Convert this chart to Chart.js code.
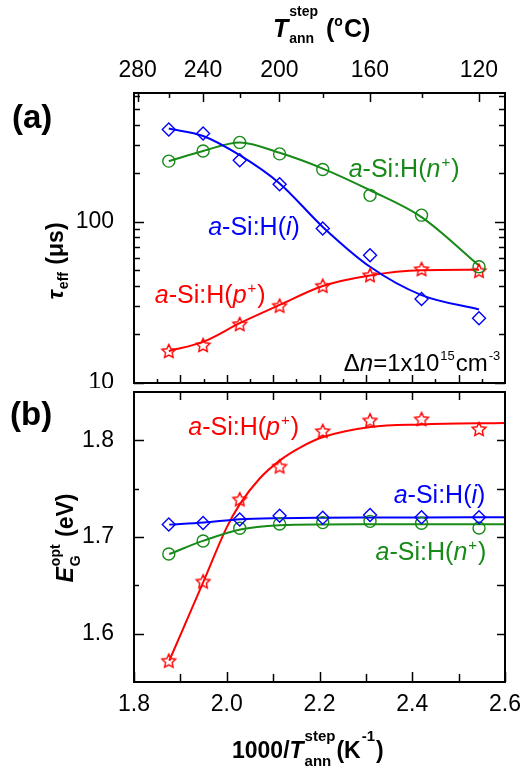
<!DOCTYPE html>
<html>
<head>
<meta charset="utf-8">
<script src="https://cdn.jsdelivr.net/npm/chart.js@4.4.1/dist/chart.umd.min.js"></script>
<style>
  html, body { margin: 0; padding: 0; background: #fff; }
  #wrap { position: relative; width: 523px; height: 773px; }
  .panel { position: absolute; left: 0; width: 523px; }
  #pa { top: 0; height: 388px; }
  #pb { top: 388px; height: 385px; }
</style>
</head>
<body>
<div id="wrap">
  <div class="panel" id="pa"><canvas id="ca"></canvas></div>
  <div class="panel" id="pb"><canvas id="cb"></canvas></div>
</div>
<script>
// 1000/T_ann (K^-1) for annealing steps 260 ... 120 °C
const invT = [1.875, 1.949, 2.028, 2.114, 2.207, 2.309, 2.420, 2.544];

// (a) effective lifetime tau_eff (µs)
const tauI = [374, 353, 241, 171, 91, 62, 33.2, 25.2];
const tauN = [238, 275, 311, 264, 211, 146, 110, 52.6];
const tauP = [15.8, 17.2, 23.2, 30.2, 40.1, 46.7, 50.9, 49.7];
// (a) fitted curves, read at the same x
const fitTauI = [379, 341, 259, 173, 93, 52.6, 35.1, 28.6];
const fitTauN = [238, 275, 311, 268, 214, 157, 107, 53.5];
const fitTauP = [15.8, 18, 23.5, 30.5, 40, 46.5, 50, 50.4];

// (b) optical gap E_G^opt (eV)
const egP = [1.572, 1.654, 1.739, 1.773, 1.8096, 1.8207, 1.822, 1.8117];
const egI = [1.713, 1.7145, 1.718, 1.722, 1.720, 1.7228, 1.7204, 1.7204];
const egN = [1.6824, 1.6959, 1.709, 1.7134, 1.7149, 1.7162, 1.7142, 1.7093];
// (b) fitted curves
const fitXP = [1.876, 1.95, 2.0, 2.029, 2.07, 2.114, 2.16, 2.208, 2.31, 2.42, 2.6];
const fitEgP = [1.572, 1.654, 1.710, 1.7345, 1.760, 1.779, 1.793, 1.8034, 1.8138, 1.8165, 1.8179];
const fitXB = [1.876, 1.95, 2.029, 2.114, 2.208, 2.31, 2.42, 2.6];
const fitEgI = [1.7128, 1.715, 1.7183, 1.7195, 1.7200, 1.7202, 1.7203, 1.7204];
const fitEgN = [1.6824, 1.6962, 1.7078, 1.7122, 1.7130, 1.7131, 1.7131, 1.7131];

// axis ticks
const topTempMajor = [280, 240, 200, 160, 120];
const topTempMinor = [260, 220, 180, 140];
const xMajor = [1.8, 2.0, 2.2, 2.4, 2.6];
const xMinor = [1.9, 2.1, 2.3, 2.5];
const tauMajor = [10, 100];
const tauMinor = [20, 30, 40, 50, 60, 70, 80, 90, 200, 300, 400, 500, 600];
const egMajor = [1.6, 1.7, 1.8];
const egMinor = [1.65, 1.75];

const BLUE = '#0000ff', GREEN = '#178a17', RED = '#ff0000';
const FAM = '"Liberation Sans", Arial, Helvetica, sans-serif';
const toX = t => 1000 / (t + 273.15);
const pts = (xs, ys) => xs.map((x, i) => ({ x, y: ys[i] }));

function fnt(size, it, bold) {
  return (it ? 'italic ' : '') + (bold ? 'bold ' : '') + size + 'px ' + FAM;
}

// draws text runs with italics, superscripts and subscripts
function drawRich(ctx, x, y, segs, o) {
  const small = o.small || Math.round(o.size * 0.55);
  const parts = [];
  let w = 0;
  for (const s of segs) {
    if (s.t !== undefined) {
      ctx.font = fnt(o.size, s.it, o.bold);
      parts.push({ txt: s.t, font: ctx.font, dx: w, dy: 0 });
      w += ctx.measureText(s.t).width;
    } else {
      ctx.font = fnt(small, false, o.bold);
      let adv = 0;
      const lead = s.lead !== undefined ? s.lead : 1;
      if (s.sup) {
        parts.push({ txt: s.sup, font: ctx.font, dx: w + lead, dy: -(s.rise || o.rise) });
        adv = Math.max(adv, ctx.measureText(s.sup).width);
      }
      if (s.sub) {
        parts.push({ txt: s.sub, font: ctx.font, dx: w + lead, dy: o.drop });
        adv = Math.max(adv, ctx.measureText(s.sub).width);
      }
      w += adv + lead + 1;
    }
  }
  const x0 = o.align === 'center' ? x - w / 2 : o.align === 'right' ? x - w : x;
  ctx.fillStyle = o.color || '#000';
  ctx.textAlign = 'left';
  ctx.textBaseline = 'alphabetic';
  for (const p of parts) {
    ctx.font = p.font;
    ctx.fillText(p.txt, x0 + p.dx, y + p.dy);
  }
}

const asih = (l, plus) => [
  { t: 'a', it: true }, { t: '-Si:H(' }, { t: l, it: true },
  ...(plus ? [{ sup: '+' }] : []), { t: ')' }
];

// open five-point star marker
function starMarker(color) {
  const c = document.createElement('canvas');
  const s = 18, r = 7.2;
  c.width = c.height = s;
  const g = c.getContext('2d');
  g.strokeStyle = color;
  g.lineWidth = 1.4;
  g.beginPath();
  for (let k = 0; k < 10; k++) {
    const rr = k % 2 ? r * 0.48 : r;
    const a = -Math.PI / 2 + k * Math.PI / 5;
    g.lineTo(s / 2 + rr * Math.cos(a), s / 2 + 0.6 + rr * Math.sin(a));
  }
  g.closePath();
  g.stroke();
  return c;
}

// frame + inward ticks + annotation texts
const decor = {
  id: 'decor',
  afterDraw(chart, args, opts) {
    const { ctx, chartArea: a } = chart;
    ctx.save();
    ctx.strokeStyle = '#000';
    ctx.lineWidth = 1.5;
    for (const t of opts.ticks) {
      const sc = chart.scales[t.scale];
      for (const v of t.values) {
        const p = Math.round(sc.getPixelForValue(v)) + 0.5;
        ctx.beginPath();
        if (t.side === 'bottom') { ctx.moveTo(p, a.bottom); ctx.lineTo(p, a.bottom - t.len); }
        if (t.side === 'top') { ctx.moveTo(p, a.top); ctx.lineTo(p, a.top + t.len); }
        if (t.side === 'left') { ctx.moveTo(a.left, p); ctx.lineTo(a.left + t.len, p); }
        if (t.side === 'right') { ctx.moveTo(a.right, p); ctx.lineTo(a.right - t.len, p); }
        ctx.stroke();
      }
    }
    ctx.lineWidth = 2;
    ctx.strokeRect(a.left, a.top, a.right - a.left, a.bottom - a.top);

    for (const l of opts.labels) {
      const px = l.data ? chart.scales.x.getPixelForValue(l.x) : l.x;
      const py = l.data ? chart.scales.y.getPixelForValue(l.y) : l.y;
      ctx.save();
      ctx.translate(px, py);
      if (l.rot) ctx.rotate(l.rot);
      drawRich(ctx, 0, 0, l.segs, l.o);
      ctx.restore();
    }
    ctx.restore();
  }
};

const tickFont = { family: FAM, size: 23 };
const dataLabel = { size: 25, small: 15, rise: 10 };
const titleOpt = { size: 23, small: 14, bold: true };

function scatterSet(data, color, style, radius) {
  return {
    type: 'line', data, showLine: false, order: 0,
    pointStyle: style, pointRadius: radius, pointHoverRadius: radius,
    pointBorderColor: color, pointBackgroundColor: 'rgba(0,0,0,0)', pointBorderWidth: 1.4
  };
}
function fitSet(data, color) {
  return {
    type: 'line', data, order: 1, borderColor: color, borderWidth: 2,
    pointRadius: 0, cubicInterpolationMode: 'monotone', fill: false
  };
}

// ---------- (a) ----------
new Chart(document.getElementById('ca'), {
  type: 'line',
  data: {
    datasets: [
      scatterSet(pts(invT, tauI), BLUE, 'rectRot', 6.5),
      scatterSet(pts(invT, tauN), GREEN, 'circle', 6),
      scatterSet(pts(invT, tauP), RED, starMarker(RED), 7),
      fitSet(pts(invT, fitTauI), BLUE),
      fitSet(pts(invT, fitTauN), GREEN),
      fitSet(pts(invT, fitTauP), RED)
    ]
  },
  plugins: [decor],
  options: {
    animation: false,
    responsive: true,
    maintainAspectRatio: false,
    layout: { autoPadding: false, padding: { left: 0, right: 18, top: 0, bottom: 0 } },
    plugins: {
      legend: { display: false },
      tooltip: { enabled: false },
      decor: {
        ticks: [
          { scale: 'x2', side: 'top', len: 9, values: topTempMajor.map(toX) },
          { scale: 'x2', side: 'top', len: 5, values: topTempMinor.map(toX) },
          { scale: 'x', side: 'bottom', len: 8, values: [1.9, 2.0, 2.1, 2.2, 2.3, 2.4, 2.5] },
          { scale: 'x', side: 'bottom', len: 4, values: [1.85, 1.95, 2.05, 2.15, 2.25, 2.35, 2.45, 2.55] },
          { scale: 'y', side: 'left', len: 10, values: tauMajor },
          { scale: 'y', side: 'left', len: 6, values: tauMinor },
          { scale: 'y', side: 'right', len: 10, values: tauMajor },
          { scale: 'y', side: 'right', len: 6, values: tauMinor }
        ],
        labels: [
          { data: true, x: 2.263, y: 189, segs: asih('n', true), o: { ...dataLabel, color: GREEN } },
          { data: true, x: 1.96, y: 82.7, segs: asih('i', false), o: { ...dataLabel, color: BLUE } },
          { data: true, x: 1.845, y: 31.3, segs: asih('p', true), o: { ...dataLabel, color: RED } },
          { data: true, x: 2.592, y: 11.9, o: { size: 24, small: 13, rise: 11, align: 'right' },
            segs: [{ t: '\u0394' }, { t: 'n', it: true }, { t: '=1x10' }, { sup: '15' }, { t: 'cm' }, { sup: '-3' }] },
          { x: 12, y: 128, segs: [{ t: '(a)' }], o: { size: 33, bold: true } },
          { x: 273, y: 37, o: { ...titleOpt, size: 25, small: 14, rise: 21, drop: 6 },
            segs: [{ t: 'T', it: true }, { sup: 'step', sub: 'ann' }, { t: ' (' },
                   { sup: 'o', lead: 0, rise: 11 }, { t: 'C)' }] },
          { x: 63, y: 261, rot: -Math.PI / 2, o: { ...titleOpt, align: 'center', rise: 9, drop: 5 },
            segs: [{ t: '\u03c4', it: true }, { sub: 'eff' }, { t: ' (\u03bcs)' }] }
        ]
      }
    },
    scales: {
      x: {
        type: 'linear', min: 1.8, max: 2.6, position: 'bottom',
        grid: { display: false }, border: { display: false },
        ticks: { display: false },
        afterFit: s => { s.height = 5; s.paddingLeft = s.paddingRight = 0; }
      },
      x2: {
        type: 'linear', min: 1.8, max: 2.6, position: 'top',
        grid: { display: false }, border: { display: false },
        afterBuildTicks: s => { s.ticks = topTempMajor.map(t => ({ value: toX(t) })); },
        ticks: { font: tickFont, color: '#000', padding: 1, maxRotation: 0, autoSkip: false,
                 callback: (v, i) => String(topTempMajor[i]) },
        afterFit: s => { s.height = 93; s.paddingLeft = s.paddingRight = 0; }
      },
      y: {
        type: 'logarithmic', min: 10, max: 630,
        grid: { display: false }, border: { display: false },
        afterBuildTicks: s => { s.ticks = tauMajor.map(v => ({ value: v })); },
        ticks: { font: tickFont, color: '#000', padding: 12, callback: v => String(v) },
        afterFit: s => { s.width = 134; s.paddingTop = s.paddingBottom = 0; }
      }
    }
  }
});

// ---------- (b) ----------
new Chart(document.getElementById('cb'), {
  type: 'line',
  data: {
    datasets: [
      scatterSet(pts(invT, egI), BLUE, 'rectRot', 6.5),
      scatterSet(pts(invT, egN), GREEN, 'circle', 6),
      scatterSet(pts(invT, egP), RED, starMarker(RED), 7),
      fitSet(pts(fitXB, fitEgI), BLUE),
      fitSet(pts(fitXB, fitEgN), GREEN),
      fitSet(pts(fitXP, fitEgP), RED)
    ]
  },
  plugins: [decor],
  options: {
    animation: false,
    responsive: true,
    maintainAspectRatio: false,
    layout: { autoPadding: false, padding: { left: 0, right: 18, top: 4, bottom: 0 } },
    plugins: {
      legend: { display: false },
      tooltip: { enabled: false },
      decor: {
        ticks: [
          { scale: 'x', side: 'top', len: 8, values: [1.9, 2.0, 2.1, 2.2, 2.3, 2.4, 2.5] },
          { scale: 'x', side: 'bottom', len: 10, values: xMajor },
          { scale: 'x', side: 'bottom', len: 8, values: xMinor },
          { scale: 'y', side: 'left', len: 10, values: egMajor },
          { scale: 'y', side: 'left', len: 5, values: egMinor },
          { scale: 'y', side: 'right', len: 8, values: egMajor.concat(egMinor) }
        ],
        labels: [
          { data: true, x: 1.917, y: 1.8052, segs: asih('p', true), o: { ...dataLabel, color: RED } },
          { data: true, x: 2.36, y: 1.7349, segs: asih('i', false), o: { ...dataLabel, color: BLUE } },
          { data: true, x: 2.321, y: 1.676, segs: asih('n', true), o: { ...dataLabel, color: GREEN } },
          { x: 10, y: 37, segs: [{ t: '(b)' }], o: { size: 33, bold: true } },
          { x: 232, y: 370, o: { ...titleOpt, small: 15, rise: 17, drop: 8 },
            segs: [{ t: '1000/' }, { t: 'T', it: true }, { sup: 'step', sub: 'ann' }, { t: '(K' }, { sup: '-1' }, { t: ')' }] },
          { x: 73, y: 150, rot: -Math.PI / 2, o: { ...titleOpt, align: 'center', rise: 13, drop: 7 },
            segs: [{ t: 'E', it: true }, { sup: 'opt', sub: 'G' }, { t: ' (eV)' }] }
        ]
      }
    },
    scales: {
      x: {
        type: 'linear', min: 1.8, max: 2.6,
        grid: { display: false }, border: { display: false },
        afterBuildTicks: s => { s.ticks = xMajor.map(v => ({ value: v })); },
        ticks: { font: tickFont, color: '#000', padding: 1, maxRotation: 0, autoSkip: false,
                 callback: v => v.toFixed(1) },
        afterFit: s => { s.height = 91; s.paddingLeft = s.paddingRight = 0; }
      },
      y: {
        type: 'linear', min: 1.55, max: 1.85,
        grid: { display: false }, border: { display: false },
        afterBuildTicks: s => { s.ticks = egMajor.map(v => ({ value: v })); },
        ticks: { font: tickFont, color: '#000', padding: 12, callback: v => v.toFixed(1) },
        afterFit: s => { s.width = 134; s.paddingTop = s.paddingBottom = 0; }
      }
    }
  }
});
</script>
</body>
</html>
